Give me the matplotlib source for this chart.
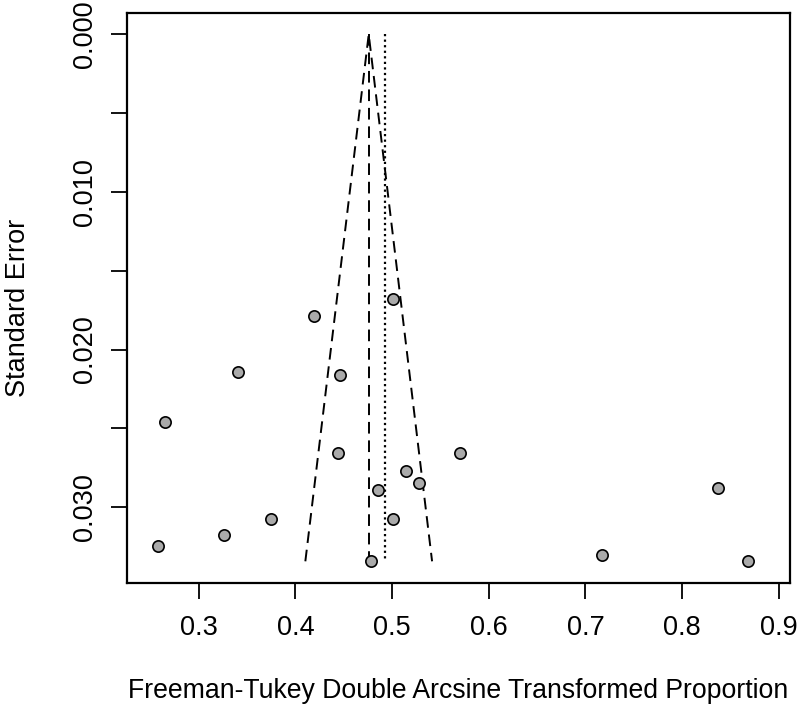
import matplotlib
matplotlib.use("Agg")
import matplotlib.pyplot as plt
import numpy as np

plt.rcParams['font.family'] = ['Liberation Sans', 'DejaVu Sans']

# Study effects (Freeman-Tukey transformed proportions) and standard errors
effect = [0.501, 0.419, 0.341, 0.446, 0.265, 0.444, 0.5705, 0.514, 0.528,
          0.486, 0.837, 0.375, 0.5015, 0.326, 0.258, 0.7175, 0.4786, 0.868]
se = [0.01682, 0.01788, 0.02144, 0.02159, 0.02459, 0.02654, 0.02654, 0.02773,
      0.02849, 0.02892, 0.02881, 0.03074, 0.03074, 0.03174, 0.03248, 0.03302,
      0.03344, 0.03344]
fixed_est = 0.4759
random_est = 0.4930
z = 1.96

xticks = [0.3, 0.4, 0.5, 0.6, 0.7, 0.8, 0.9]
xtick_labels = ["0.3", "0.4", "0.5", "0.6", "0.7", "0.8", "0.9"]
yticks = [0.0, 0.005, 0.010, 0.015, 0.020, 0.025, 0.030]
ytick_labels = ["0.000", "", "0.010", "", "0.020", "", "0.030"]

W, H = 800, 714
fig = plt.figure(figsize=(W / 100, H / 100), dpi=100)
left, right, top, bottom = 126.7, 789.8, 13.3, 582.7
ax = fig.add_axes([left / W, 1 - bottom / H, (right - left) / W, (bottom - top) / H])

semax = max(se)
se_line = [0.0, semax]
ax.plot([fixed_est - z * semax, fixed_est, fixed_est + z * semax],
        [semax, 0.0, semax], color='black', lw=1.4, ls=(0, (6, 3.5)))
ax.plot([fixed_est, fixed_est], se_line, color='black', lw=1.4, ls=(0, (6, 3.5)))
ax.plot([random_est, random_est], se_line, color='black', lw=1.6, ls=(0, (1, 1.5)))

ax.scatter(effect, se, s=66, facecolor='#aaaaaa', edgecolor='black', linewidth=1.2, zorder=3)

xmin, xmax = 0.251, 0.886
xr = xmax - xmin
ax.set_xlim(xmin - 0.04 * xr, xmax + 0.04 * xr)
ax.set_ylim(semax * 1.04 + 0.00002, -0.04 * semax)

ax.set_xticks(xticks)
ax.set_xticklabels(xtick_labels)
ax.set_yticks(yticks)
ax.set_yticklabels(ytick_labels, rotation=90, va='center')

ax.tick_params(axis='both', direction='out', length=11.5, width=1.3, labelsize=19.5, colors='black')
ax.tick_params(axis='x', pad=12)
ax.tick_params(axis='y', pad=9)
for sp in ax.spines.values():
    sp.set_linewidth(1.6)

ax.set_xlabel("Freeman-Tukey Double Arcsine Transformed Proportion", fontsize=19.2)
ax.set_ylabel("Standard Error", fontsize=19.5)
ax.xaxis.set_label_coords(0.5, -0.168)
ax.yaxis.set_label_coords(-0.144, 0.482)

fig.savefig("out.png", dpi=100)
